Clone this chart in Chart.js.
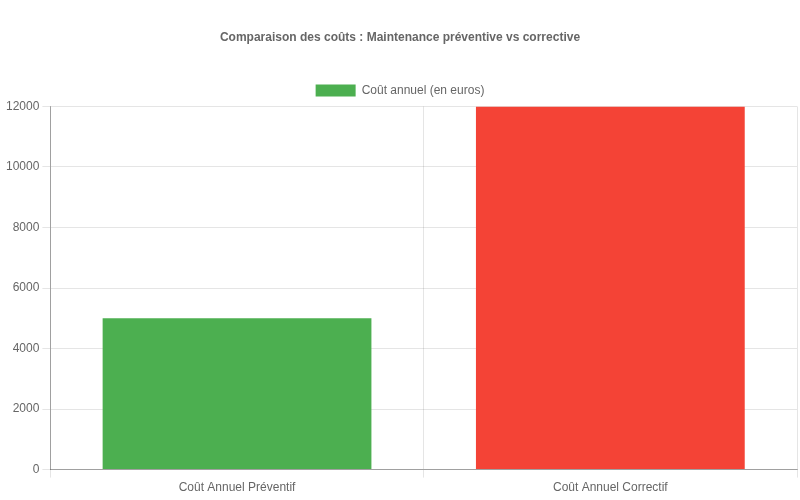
<!DOCTYPE html>
<html>
<head>
<meta charset="utf-8">
<script src="https://cdn.jsdelivr.net/npm/chart.js@4"></script>
<style>
  html, body { margin: 0; padding: 0; background: #fff; }
  #wrap { width: 800px; height: 500px; }
</style>
</head>
<body>
<div id="wrap"><canvas id="cost-chart"></canvas></div>
<script>
// data
const categories = ['Coût Annuel Préventif', 'Coût Annuel Correctif'];
const costValues = [5000, 12000];
const barColors = ['#4CAF50', '#F44336'];
const seriesLabel = 'Coût annuel (en euros)';

const ctx = document.getElementById('cost-chart').getContext('2d');

new Chart(ctx, {
    type: 'bar',
    data: {
        labels: categories,
        datasets: [{
            label: seriesLabel,
            data: costValues,
            backgroundColor: barColors
        }]
    },
    options: {
        responsive: true,
        maintainAspectRatio: false,
        animation: false,
        layout: {
            padding: { left: 3, right: 3, bottom: 2 }
        },
        plugins: {
            title: {
                display: true,
                text: 'Comparaison des coûts : Maintenance préventive vs corrective',
                color: '#666',
                font: { size: 12, weight: 'bold' },
                padding: { top: 30, bottom: 30 }
            },
            legend: {
                position: 'top'
            }
        },
        scales: {
            x: {
                border: { color: 'rgba(0,0,0,0.3)' }
            },
            y: {
                beginAtZero: true,
                max: 12000,
                border: { color: 'rgba(0,0,0,0.3)' },
                ticks: {
                    stepSize: 2000,
                    callback: value => String(value) // plain numbers, no thousands separator
                }
            }
        }
    }
});
</script>
</body>
</html>
